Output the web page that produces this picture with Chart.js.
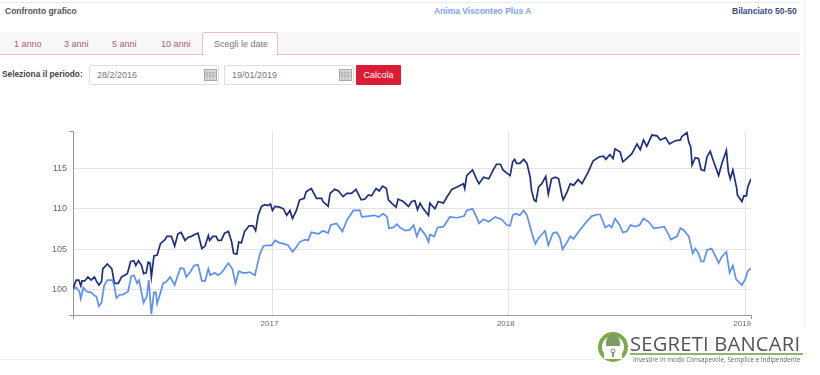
<!DOCTYPE html>
<html>
<head>
<meta charset="utf-8">
<title>Confronto grafico</title>
<script src="https://cdn.jsdelivr.net/npm/chart.js@4"></script>
<style>
    html, body { margin: 0; padding: 0; background: #fff; }
    body { width: 820px; height: 375px; position: relative; overflow: hidden; font-family: "Liberation Sans", Arial, sans-serif; }
    .abs { position: absolute; white-space: nowrap; }
    .head { top: 6px; font-size: 8.5px; font-weight: bold; line-height: 11px; }
    .tab { top: 39px; font-size: 9px; line-height: 11px; color: #a8606c; }
    .campo { top: 65px; height: 18px; border: 1px solid #ddd; border-radius: 2px; background: #fff; font-size: 9px; line-height: 18px; color: #777; }
    .campo span { position: absolute; left: 7px; }
    .campo svg { position: absolute; right: 1px; top: 3px; }
    #chartBox { position: absolute; left: 0; top: 120px; width: 820px; height: 210px; }
</style>
</head>
<body>
<div class="abs" style="left:0;top:2px;width:800px;height:1px;background:#e8e8e8"></div>
<div class="abs" style="left:804px;top:0;width:1px;height:328px;background:#eee"></div>
<div class="abs" style="left:0;top:359px;width:600px;height:1px;background:#eee"></div>

<div class="abs head" style="left:5px;color:#555">Confronto grafico</div>
<div class="abs head" style="left:434px;color:#7ba2fb">Anima Visconteo Plus A</div>
<div class="abs head" style="left:732px;color:#3d4a80">Bilanciato 50-50</div>

<div class="abs" style="left:0;top:32px;width:800px;height:22px;background:#f7f7f7;border-bottom:1px solid #f2bcbc"></div>
<div class="abs tab" style="left:14px">1 anno</div>
<div class="abs tab" style="left:64px">3 anni</div>
<div class="abs tab" style="left:112px">5 anni</div>
<div class="abs tab" style="left:161px">10 anni</div>
<div class="abs" style="left:202px;top:32px;width:74px;height:22px;background:#fff;border:1px solid #f2bcbc;border-bottom:1px solid #fff;border-radius:3px 3px 0 0"></div>
<div class="abs tab" style="left:214px;color:#777">Scegli le date</div>

<div class="abs" style="left:2px;top:69px;font-size:8.3px;line-height:11px;font-weight:bold;color:#444">Seleziona il periodo:</div>
<div class="abs campo" style="left:89px;width:128px"><span>28/2/2016</span>
    <svg width="13" height="12"><rect x="0.5" y="0.5" width="12" height="11" fill="#ddd" stroke="#aaa"/><path d="M0 4H13M0 7H13M3 2V12M6 2V12M9 2V12" stroke="#999" stroke-width="0.6"/></svg></div>
<div class="abs campo" style="left:224px;width:128px"><span>19/01/2019</span>
    <svg width="13" height="12"><rect x="0.5" y="0.5" width="12" height="11" fill="#ddd" stroke="#aaa"/><path d="M0 4H13M0 7H13M3 2V12M6 2V12M9 2V12" stroke="#999" stroke-width="0.6"/></svg></div>
<div class="abs" style="left:356px;top:65px;width:45px;height:20px;background:#dc1c34;border-radius:1px;color:#fff;font-size:9px;line-height:20px;text-align:center">Calcola</div>

<div id="chartBox"><canvas id="lineChart" width="820" height="210"></canvas></div>

<div class="abs" style="left:596px;top:330px;width:212px;height:34px;background:#fff"></div>
<svg class="abs" style="left:597px;top:331px" width="32" height="32">
    <circle cx="16" cy="16" r="13" fill="#fff" stroke="#7dab48" stroke-width="4"/>
    <path d="M9 15V11a7 7 0 0 1 14 0V15Z" fill="#7f9a68"/>
    <rect x="7" y="15" width="18" height="13" fill="#fff"/>
    <circle cx="16" cy="20" r="2" fill="none" stroke="#7f9a68"/>
    <rect x="15" y="21" width="2" height="5" fill="#7f9a68"/>
</svg>
<div class="abs" style="left:630px;top:332px;font-family:'Open Sans',sans-serif;font-size:20.2px;line-height:22px;color:#555;letter-spacing:0.2px">SEGRETI BANCARI</div>
<div class="abs" style="left:630px;top:353px;width:173px;height:2px;background:#8fb56a"></div>
<div class="abs" style="left:633px;top:355px;font-family:'Open Sans',sans-serif;font-size:6.35px;line-height:9px;color:#666">Investire in modo Consapevole, Semplice e Indipendente</div>

<script>
// giorni dal 28/02/2016
const giorniPiano = [0,3,5,9,12,14,18,23,28,33,36,40,44,46,53,60,64,70,75,84,89,94,97,101,106,109,113,116,119,121,125,130,135,142,145,152,157,162,167,173,178,183,187,193,199,204,209,211,216,221,224,229,234,240,245,248,253,256,260,265,272,278,282,286,291,296,301,305,308,312,319,
    325,330,335,339,345,350,357,360,368,376,384,386,394,397,404,410,417,423,430,437,445,451,456,461,468,473,478,484,487,492,499,502,510,518,523,528,532,536,541,549,551,559,564,572,577,585,593,603,605,608,617,623,627,634,642,649,654,660,664,670,
    675,679,682,685,690,696,701,706,708,712,715,719,724,730,734,739,745,750,755,757,763,768,773,780,786,796,803,812,819,823,829,834,837,845,849,855,863,871,876,881,886,894,902,907,915,921,930,938,940,948,951,954,956,961,966,970,975,979,984,989,997,1002,1009,1012,1015,1019,1025,1026,1033,1036,1040,1042,1047];
const valoriPiano = [100.0,100.8,101.2,101.2,100.5,101.1,101.1,101.6,101.2,101.6,101.1,100.6,101.0,102.6,103.2,102.6,100.8,100.8,101.6,102.0,103.5,103.6,103.0,103.6,103.0,102.0,102.1,103.4,103.3,101.6,104.2,104.3,105.7,106.2,106.6,106.6,105.4,106.9,107.1,106.1,106.5,106.6,106.8,107.0,105.1,105.4,106.7,106.1,106.6,106.6,106.1,106.1,107.0,107.2,105.9,104.5,104.4,105.9,105.8,107.2,107.9,107.9,107.3,109.2,110.3,110.5,110.4,110.6,109.8,110.3,110.2,
    110.0,109.2,109.8,108.8,109.8,111.1,111.3,112.1,112.5,111.3,111.3,110.9,110.3,111.9,112.4,112.2,111.5,111.9,111.9,112.4,111.1,111.2,111.7,111.6,112.5,112.2,112.8,112.5,111.1,110.7,110.2,111.2,110.9,110.3,110.9,111.0,109.9,110.7,110.0,109.2,110.7,110.0,110.9,110.7,111.4,112.4,112.7,113.1,112.5,114.1,114.8,113.7,113.1,113.9,113.7,114.8,115.5,115.5,114.8,114.4,
    114.1,115.8,116.1,115.6,115.6,116.1,115.6,113.9,112.3,111.1,110.9,112.7,113.1,114.0,111.8,113.7,113.9,113.7,111.7,111.1,112.1,113.1,112.9,113.6,113.1,114.6,115.9,116.4,116.5,116.1,116.7,116.2,117.4,117.0,115.8,116.2,116.8,118.0,117.3,118.5,117.7,119.1,119.0,118.5,118.8,118.0,118.4,118.5,118.9,119.4,118.2,117.6,115.4,116.3,116.2,114.8,114.7,116.4,117.1,115.9,114.1,115.6,117.2,114.6,113.7,114.8,112.5,111.7,110.9,111.6,111.6,112.7,113.7];

const giorniFondo = [0,5,10,12,16,21,28,33,36,40,44,48,53,61,64,67,72,77,85,90,94,99,102,106,109,114,117,121,125,128,130,135,139,144,150,157,161,166,171,175,181,187,193,199,204,209,212,219,224,229,233,240,246,251,256,262,268,273,281,284,289,294,299,307,312,319,
    325,332,339,345,350,358,363,368,379,386,394,398,407,416,423,433,443,446,456,466,472,479,485,488,495,500,505,513,520,526,531,536,544,549,551,558,563,572,582,593,604,608,617,623,627,634,642,652,662,670,
    675,679,684,690,696,701,706,710,714,719,729,734,741,747,752,756,763,768,773,781,791,801,810,814,822,828,832,837,844,849,855,861,868,875,881,889,897,907,913,920,923,933,938,943,951,957,961,966,970,974,979,986,990,997,1002,1009,1014,1019,1024,1033,1038,1042,1047];
const valoriFondo = [100.0,100.3,99.8,98.9,100.3,99.8,99.7,99.3,99.2,98.0,98.4,100.5,101.2,101.2,100.4,99.0,99.4,99.4,99.8,101.7,101.8,100.8,101.2,99.6,98.4,99.2,101.2,97.0,99.7,99.7,98.3,99.6,100.8,101.0,101.6,100.6,101.6,102.7,102.6,101.6,102.2,103.0,103.1,101.1,101.1,102.6,101.8,102.1,101.8,102.1,102.5,103.3,102.6,100.8,102.3,102.1,102.1,102.2,101.8,102.9,104.5,105.4,105.5,105.5,106.1,105.8,
    105.7,105.5,104.7,105.3,105.9,106.2,106.1,107.1,106.9,107.3,107.0,108.0,108.2,107.2,108.6,109.8,109.8,109.0,109.1,109.2,109.0,109.4,109.0,107.6,107.7,108.1,107.7,107.3,107.4,108.0,106.6,107.6,106.8,105.9,106.8,106.6,107.7,107.8,109.0,108.9,109.1,109.8,110.0,109.0,108.2,108.7,108.4,109.0,108.7,108.0,
    107.9,109.2,109.4,109.2,109.8,109.2,107.8,106.6,105.7,106.4,107.3,105.5,107.0,107.1,106.4,105.0,105.9,106.6,106.3,107.2,108.2,109.1,109.3,109.3,107.7,108.0,107.7,108.8,108.0,107.1,107.2,108.0,107.8,108.0,108.8,108.4,107.6,107.7,107.8,106.8,106.2,106.6,107.6,107.4,106.6,104.5,105.1,104.5,103.5,103.5,104.9,105.1,104.5,103.3,104.1,104.7,102.1,103.0,101.3,100.6,101.3,102.3,102.7];

const tickGiorni = [0, 308, 673, 1038, 1047];
const tickAnni = ['', '2017', '2018', '2019', ''];
const tickValori = [96.9, 100, 105, 110, 115, 119.6];
const tickValoriLabel = ['', '100', '105', '110', '115', ''];

const unisci = (xs, ys) => xs.map((x, i) => ({ x, y: ys[i] }));

const COLORE_GRIGLIA = '#e3e3e3';
const COLORE_ASSE = '#999999';

new Chart(document.getElementById('lineChart'), {
    type: 'line',
    data: {
        datasets: [{
            label: 'Anima Visconteo Plus A',
            data: unisci(giorniFondo, valoriFondo),
            borderColor: '#5b8ffa',
            borderWidth: 1.7,
            pointRadius: 0,
            tension: 0
        }, {
            label: 'Bilanciato 50-50',
            data: unisci(giorniPiano, valoriPiano),
            borderColor: '#1e2f82',
            borderWidth: 1.7,
            pointRadius: 0,
            tension: 0
        }]
    },
    options: {
        responsive: false,
        animation: false,
        layout: { padding: { top: 11, right: 69, left: 0, bottom: 0 } },
        plugins: { legend: { display: false }, tooltip: { enabled: false } },
        scales: {
            x: {
                type: 'linear',
                min: 0,
                max: 1047,
                afterBuildTicks: s => { s.ticks = tickGiorni.map(value => ({ value })); },
                afterFit: s => { s.height = 15; },
                border: { color: COLORE_ASSE },
                grid: {
                    color: c => (c.index === 0 || c.index === 4) ? 'transparent' : COLORE_GRIGLIA,
                    tickColor: c => (c.index === 0 || c.index === 4) ? COLORE_ASSE : 'transparent',
                    tickLength: 4
                },
                ticks: {
                    autoSkip: false,
                    maxRotation: 0,
                    padding: 0,
                    labelOffset: -3,
                    font: { family: 'Liberation Sans', size: 8 },
                    color: '#666',
                    callback: (v, i) => tickAnni[i]
                }
            },
            y: {
                min: 96.9,
                max: 119.6,
                afterBuildTicks: s => { s.ticks = tickValori.map(value => ({ value })); },
                afterFit: s => { s.width = 73; },
                border: { color: COLORE_ASSE },
                grid: {
                    color: c => (c.index === 0 || c.index === 5) ? 'transparent' : COLORE_GRIGLIA,
                    tickColor: c => (c.index === 0 || c.index === 5) ? COLORE_ASSE : 'transparent',
                    tickLength: 4
                },
                ticks: {
                    autoSkip: false,
                    padding: 2,
                    font: { family: 'Liberation Sans', size: 9 },
                    color: '#666',
                    callback: (v, i) => tickValoriLabel[i]
                }
            }
        }
    }
});
</script>
</body>
</html>
